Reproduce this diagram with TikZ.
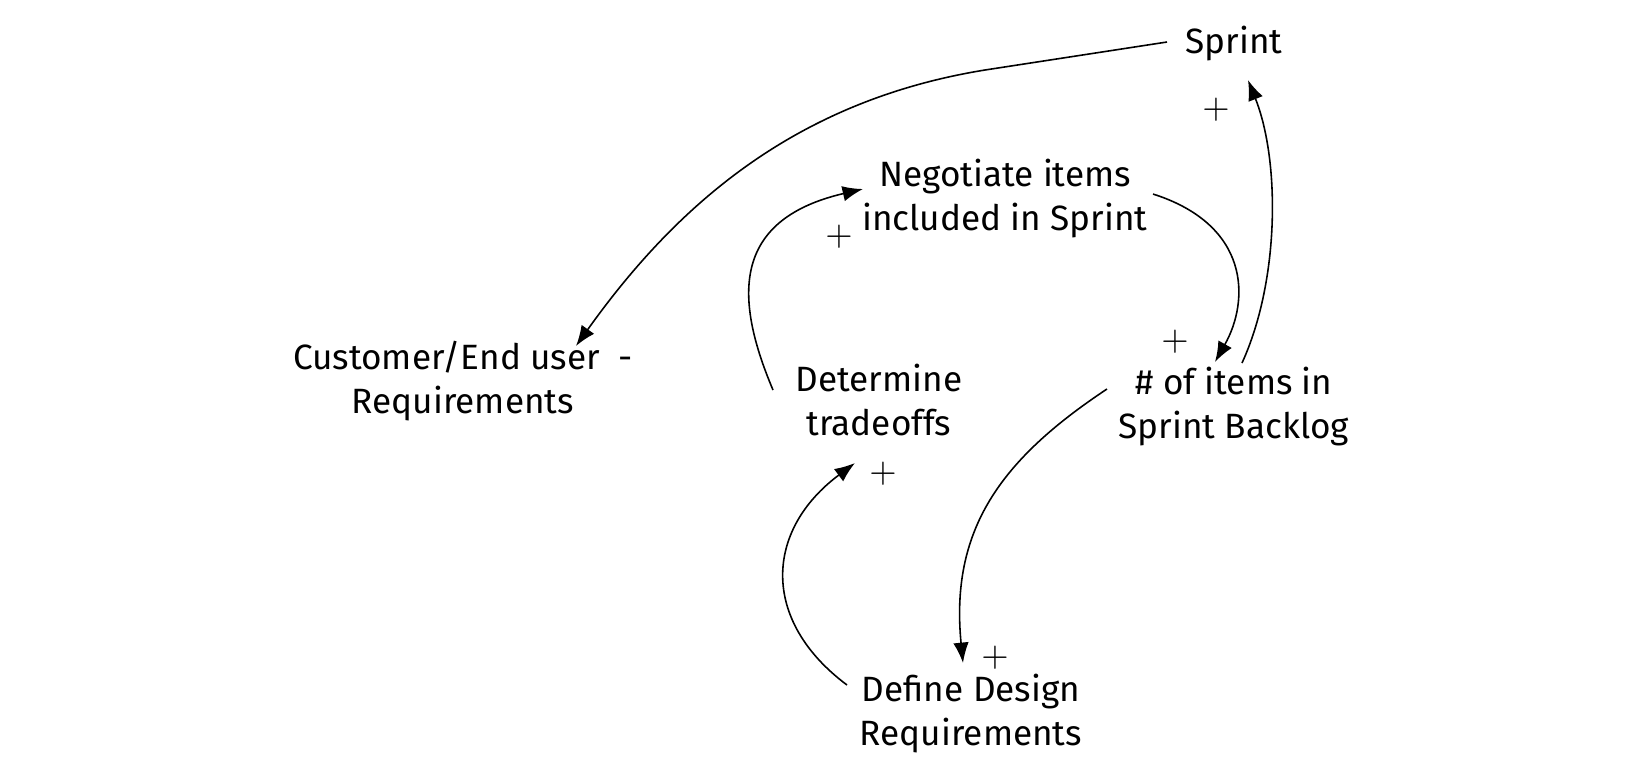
\documentclass[tikz,border=0pt]{standalone}
\usepackage{fontspec}
\setmainfont{Fira Sans}
\usetikzlibrary{arrows.meta,calc}

\begin{document}
\begin{tikzpicture}[x=0.01cm,y=-0.01cm,>={Latex[length=5.8pt,width=4.4pt]},
	var/.style={align=center,inner sep=0pt,font=\fontsize{10}{12.5}\selectfont,
		execute at begin node=\strut,execute at end node=\strut},
	sign/.style={inner sep=0pt,font=\fontsize{10}{12}\selectfont},
	link/.style={->,line width=0.45pt}]

\useasboundingbox (0,0) rectangle (1650,775);

% variables
\node [var] (sprint) at (1234,45) {Sprint};
\node [var] (neg) at (1005,201) {Negotiate items\\ included in Sprint};
\node [var] (cust) at (463,384) {Customer/End user\ \ -\\ Requirements};
\node [var] (det) at (879,406) {Determine\\ tradeoffs};
\node [var] (items) at (1234,409) {\# of items in\\ Sprint Backlog};
\node [var] (def) at (971,716) {Define Design\\ Requirements};

% polarities
\node [sign] (pSprint) at (1216,110) {$+$};
\node [sign] (pNeg) at (839,237) {$+$};
\node [sign] (pItems) at (1175,342) {$+$};
\node [sign] (pDet) at (883,474) {$+$};
\node [sign] (pDef) at (995,658) {$+$};

% links
\draw [link] ($(sprint)+(-67,-3)$) -- (985,70) .. controls (800,100) and (680,200) .. ($(cust)+(113,-38)$);
\draw [link] ($(neg)+(148,-7)$) .. controls (1250,225) and (1250,300) .. ($(items)+(-19,-47)$);
\draw [link] ($(items)+(8,-46)$) .. controls (1280,280) and (1280,160) .. ($(sprint)+(14,35)$);
\draw [link] ($(det)+(-106,-16)$) .. controls (735,300) and (730,220) .. ($(neg)+(-142,-12)$);
\draw [link] ($(items)+(-127,-20)$) .. controls (1000,460) and (950,530) .. ($(def)+(-8,-53)$);
\draw [link] ($(def)+(-124,-31)$) .. controls (760,620) and (765,530) .. ($(det)+(-24,57)$);
%\draw [link] (det) to (neg);

\end{tikzpicture}
\end{document}
